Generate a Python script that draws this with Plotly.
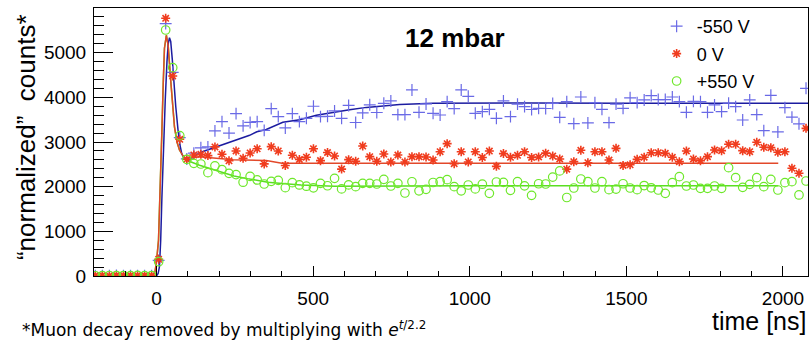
import plotly.graph_objects as go

# ---------------- data ----------------
BIN_START_NS = -195.8
BIN_WIDTH_NS = 22.47

counts_m550 = [5, 8, 4, 10, 6, 9, 7, 5, 8,
               350, 5650, 4560, 3100, 2620, 2750, 2870, 2890, 3250, 3456,
               3200, 3635, 3362, 3438, 3456, 3260, 3748, 3568, 3315, 3635,
               3456, 3531, 3800, 3568, 3575, 3695, 3531, 3818, 3437, 3650,
               3833, 3661, 3866, 3919, 3612, 3612, 4165, 3665, 3852, 3643,
               3605, 3904, 3747, 4165, 4023, 3643, 3680, 3732, 3531, 3919,
               3568, 3848, 3792, 3728, 3755, 3750, 3863, 3553, 3904, 3411,
               4008, 3426, 3881, 3732, 3434, 3848, 3755, 3990, 3881, 3941,
               4040, 3950, 3950, 4008, 3904, 3665, 3910, 3904, 3665, 3829,
               3680, 3870, 3792, 3493, 3941, 3612, 3255, 4045, 3225, 3769,
               3557, 3407, 4202]

counts_0 = [10, 12, 8, 15, 9, 11, 10, 13, 9,
            373, 5769, 4478, 3060, 2613, 2710, 2725, 2695, 2890, 2725,
            2580, 2799, 2635, 2755, 2848, 2510, 2896, 2799, 2475, 2702,
            2610, 2660, 2850, 2583, 2765, 2687, 2393, 2605, 2570, 2910,
            2672, 2568, 2731, 2553, 2709, 2553, 2672, 2672, 2665, 2597,
            2783, 2963, 2515, 2783, 2553, 2783, 2653, 2798, 2455, 2740,
            2657, 2702, 2783, 2653, 2665, 2750, 2686, 2620, 2392, 2560,
            2814, 2537, 2783, 2783, 2597, 2858, 2475, 2490, 2612, 2660,
            2760, 2761, 2746, 2657, 2560, 2799, 2620, 2582, 2672, 2821,
            2806, 2948, 2948, 2806, 2783, 2993, 2881, 2873, 2769, 2783,
            2411, 2299, 3306]

counts_p550 = [6, 9, 11, 7, 10, 8, 12, 7, 10,
               320, 5508, 4665, 3142, 2613, 2523, 2508, 2314, 2467, 2380,
               2299, 2270, 2100, 2230, 2150, 2060, 2120, 2140, 1978, 2090,
               2038, 2010, 1975, 2075, 2020, 2187, 1949, 2040, 2000, 2074,
               2074, 2060, 2164, 2015, 2074, 1858, 2110, 1907, 1940, 2093,
               2112, 2157, 2000, 1907, 2037, 1950, 2055, 1851, 2105, 2095,
               1918, 2112, 2018, 1806, 2065, 2060, 2215, 2352, 1758, 1970,
               2172, 2112, 1970, 2112, 1933, 1945, 2065, 1970, 1933, 2025,
               1975, 1925, 1851, 2090, 2224, 2015, 2037, 1963, 1963, 2015,
               1963, 2425, 2201, 1985, 2052, 2201, 2000, 2164, 1925, 2090,
               2112, 1814, 2127]

time_ns = [BIN_START_NS + BIN_WIDTH_NS * i for i in range(len(counts_m550))]

# smooth (simulation) curves
curve_m550_t = [0, 5, 9, 13, 16.6, 22, 27.5, 33, 37, 41, 45, 50, 55, 61, 68, 74, 80.5, 88, 95,
                105, 137, 190, 244, 297, 320, 350, 403, 457, 510, 563, 616, 670, 776, 883,
                1000, 1200, 1500, 2080]
curve_m550_v = [0, 60, 210, 800, 1700, 2900, 3940, 4800, 5200, 5336, 5250, 4850, 4315, 3800,
                3290, 2950, 2730, 2640, 2600,
                2600, 2760, 2890, 3030, 3150, 3230, 3280, 3440, 3500, 3600, 3665, 3720, 3775,
                3840, 3866, 3870, 3875, 3870, 3870]

curve_0_t = [-200, -12, -5, 0, 6, 11, 16.6, 21, 25, 31, 37, 44, 50, 57, 65, 73, 89, 100,
             137, 244, 350, 400, 450, 600, 800, 1000, 1500, 1985]
curve_0_v = [0, 0, 100, 350, 800, 1800, 3200, 4300, 5100, 5390, 5150, 4460, 3950, 3340,
             3000, 2820, 2635, 2640,
             2670, 2600, 2585, 2525, 2525, 2530, 2525, 2530, 2525, 2525]

curve_p550_t = [-200, -12, -5, 0, 6, 11, 16.6, 21, 25, 31, 37, 44, 50, 57, 65, 73, 89, 100,
                137, 180, 247, 290, 355, 400, 461, 568, 700, 1000, 1500, 1985]
curve_p550_v = [0, 0, 100, 350, 800, 1800, 3200, 4300, 5100, 5390, 5150, 4460, 3950, 3340,
                3000, 2820, 2635, 2580,
                2480, 2380, 2240, 2180, 2100, 2070, 2037, 2010, 2015, 2020, 2020, 2020]

labels = ["-550 V", "0 V", "+550 V"]

# ---------------- styles ----------------
BLUE_M, BLUE_L = "#6a6ae6", "#1c1ca0"
RED_M, RED_L = "#f03c1e", "#e2482a"
GREEN_M, GREEN_L = "#6ee82a", "#5ade22"
FONT = "Liberation Sans, Arial, Helvetica, sans-serif"

fig = go.Figure()

# curves
fig.add_trace(go.Scatter(x=curve_p550_t, y=curve_p550_v, mode="lines",
                         line=dict(color=GREEN_L, width=1.5), showlegend=False, hoverinfo="skip"))
fig.add_trace(go.Scatter(x=curve_m550_t, y=curve_m550_v, mode="lines",
                         line=dict(color=BLUE_L, width=1.5), showlegend=False, hoverinfo="skip"))
fig.add_trace(go.Scatter(x=curve_0_t, y=curve_0_v, mode="lines",
                         line=dict(color=RED_L, width=1.5), showlegend=False, hoverinfo="skip"))

# data points
fig.add_trace(go.Scatter(x=time_ns, y=counts_m550, mode="markers", name=labels[0],
                         legendgroup="a",
                         marker=dict(symbol="cross-thin-open", size=8.5, color=BLUE_M,
                                     line=dict(color=BLUE_M, width=1.2))))
fig.add_trace(go.Scatter(x=time_ns, y=counts_0, mode="markers", name=labels[1],
                         legendgroup="b",
                         marker=dict(symbol="asterisk-open", size=7.5, color=RED_M,
                                     line=dict(color=RED_M, width=1.6))))
fig.add_trace(go.Scatter(x=time_ns, y=counts_p550, mode="markers", name=labels[2],
                         legendgroup="c",
                         marker=dict(symbol="circle-open", size=8.5, color=GREEN_M,
                                     line=dict(color=GREEN_M, width=1.2))))

axis_common = dict(showgrid=False, zeroline=False, showline=True, mirror=True,
                   linecolor="black", linewidth=1, ticks="inside", tickcolor="black",
                   tickfont=dict(family=FONT, size=19, color="black"))

fig.update_xaxes(range=[-200, 2080], dtick=500, tick0=0, ticklen=10, tickwidth=1,
                 minor=dict(dtick=100, ticklen=5, ticks="inside", tickcolor="black"),
                 ticklabelstandoff=5, **axis_common)
fig.update_yaxes(range=[0, 6000], dtick=1000, tick0=0, ticklen=19, tickwidth=1.2,
                 minor=dict(dtick=200, ticklen=10, ticks="inside", tickcolor="black"),
                 ticklabelstandoff=3, **axis_common)

fig.update_layout(
    width=810, height=340,
    margin=dict(l=94, r=2, t=8, b=64),
    paper_bgcolor="white", plot_bgcolor="white",
    font=dict(family=FONT, color="black"),
    legend=dict(x=0.788, y=1.0, xanchor="left", yanchor="top",
                font=dict(family=FONT, size=18, color="black"),
                bgcolor="rgba(0,0,0,0)", tracegroupgap=1, itemwidth=30),
    annotations=[
        dict(text="<b>12 mbar</b>", xref="paper", yref="paper", x=0.506, y=0.888,
             xanchor="center", yanchor="middle", showarrow=False,
             font=dict(family=FONT, size=26, color="black")),
        dict(text="time [ns]", xref="paper", yref="paper", x=1.0, y=-0.11,
             xanchor="right", yanchor="top", showarrow=False,
             font=dict(family=FONT, size=25, color="black")),
        dict(text="\u201cnormalized\u201d  counts*", xref="paper", yref="paper",
             x=-0.096, y=0.52, xanchor="center", yanchor="middle", textangle=-90,
             showarrow=False, font=dict(family=FONT, size=26, color="black")),
        dict(text="*Muon decay removed by multiplying with <i>e</i><sup><i>t</i>/2.2</sup>",
             xref="paper", yref="paper", x=-0.103, y=-0.148, xanchor="left",
             yanchor="top", showarrow=False,
             font=dict(family="DejaVu Sans, sans-serif", size=17, color="black")),
    ],
)

fig.write_html("out.html")
